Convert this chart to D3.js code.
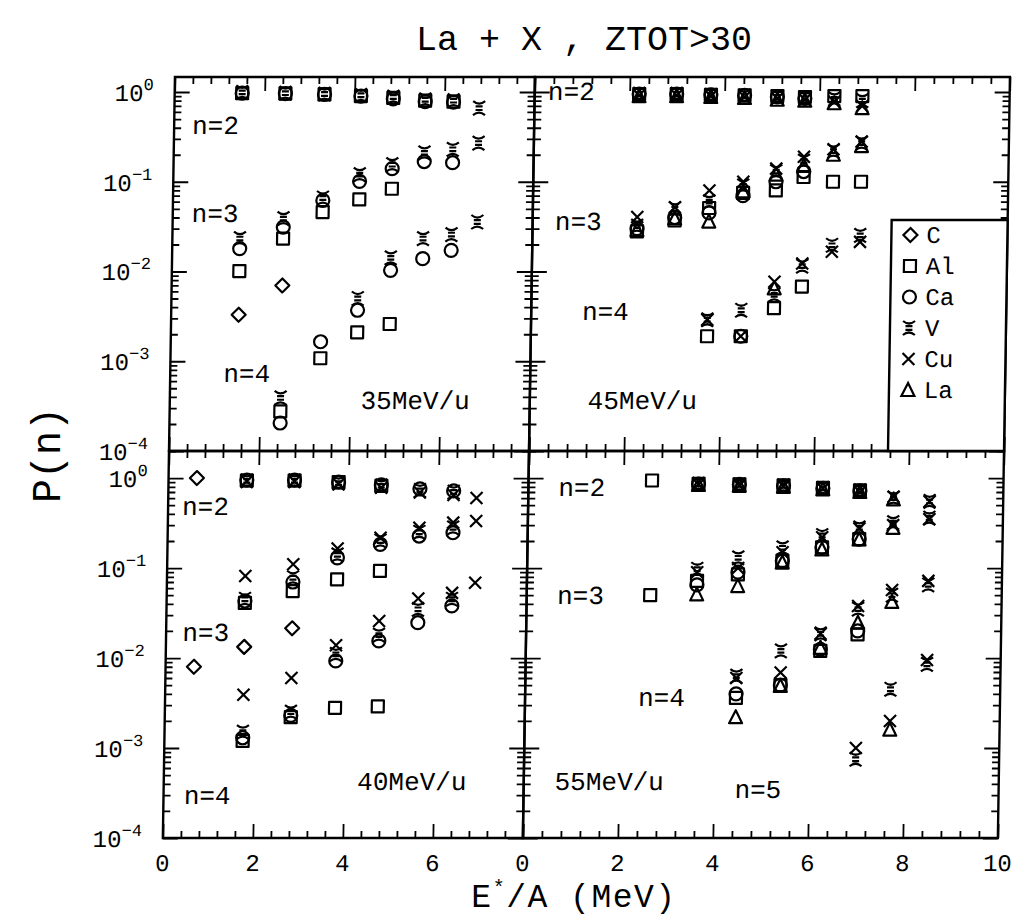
<!DOCTYPE html>
<html><head><meta charset="utf-8">
<script src="https://cdn.jsdelivr.net/npm/d3@7"></script>
<style>body{margin:0;background:#fff}</style>
</head><body>
<svg id="c" width="1013" height="922"></svg>
<script>
// ---------------- data ----------------
const SPECIES = ["C","Al","Ca","V","Cu","La"];
const X_TICKS_LEFT = [0,2,4,6];
const X_TICKS_RIGHT = [0,2,4,6,8,10];
const Y_TICK_EXP = [0,-1,-2,-3,-4];

// 35 MeV/u  (rows: C, Al, Ca, V, Cu, La)
const E35 = [1.50, 2.46, 3.33, 4.14, 4.86, 5.57, 6.20, 6.77];
const P35_n2 = [
  [null,null,null,null,null,null,null,null],
  [0.97,0.96,0.94,0.90,0.86,0.80,0.78,null],
  [0.97,0.96,0.94,0.90,0.84,0.78,0.77,null],
  [0.99,0.97,0.95,0.92,0.88,0.82,0.80,0.66],
  [null,null,null,null,null,null,null,null],
  [null,null,null,null,null,null,null,null]];
const P35_n3 = [
  [3.3e-3,7.0e-3,null,null,null,null,null,null],
  [0.0101,0.0233,0.046,0.0636,0.0836,null,null,null],
  [0.018,0.0313,0.062,0.101,0.14,0.168,0.163,null],
  [0.0233,0.0388,0.0659,0.12,0.155,0.21,0.23,0.27],
  [null,null,null,null,null,null,null,null],
  [null,null,null,null,null,null,null,null]];
const P35_n4 = [
  [null,null,null,null,null,null,null,null],
  [null,2.76e-4,1.08e-3,2.1e-3,2.6e-3,null,null,null],
  [null,2.05e-4,1.65e-3,3.7e-3,0.0103,0.0139,0.0172,null],
  [null,3.9e-4,null,5.0e-3,0.0142,0.0233,0.0258,0.0356],
  [null,null,null,null,null,null,null,null],
  [null,null,null,null,null,null,null,null]];

// 45 MeV/u
const E45 = [2.20, 2.99, 3.71, 4.42, 5.11, 5.69, 6.31, 6.90];
const P45_n2 = [
  [null,null,null,null,null,null,null,null],
  [0.95,0.95,0.93,0.92,0.90,0.88,0.90,0.90],
  [0.95,0.95,0.93,0.92,0.88,0.85,null,null],
  [0.95,0.95,0.92,0.90,0.88,0.85,0.84,0.80],
  [0.92,0.92,0.90,0.88,0.85,0.82,0.78,0.70],
  [0.90,0.90,0.88,0.86,0.82,0.80,0.75,0.66]];
const P45_n3 = [
  [null,null,null,null,null,null,null,null],
  [0.028,0.037,0.051,0.075,0.080,0.113,0.10,0.10],
  [0.030,0.040,0.045,0.070,0.10,0.13,null,null],
  [0.032,0.050,0.060,0.090,0.13,0.17,0.22,0.27],
  [0.0405,0.052,0.080,0.10,0.14,0.19,0.23,0.28],
  [0.029,0.039,0.036,0.078,0.12,0.15,0.20,0.25]];
const P45_n4 = [
  [null,null,null,null,null,null,null,null],
  [null,null,1.9e-3,1.9e-3,3.9e-3,6.8e-3,null,null],
  [null,null,null,1.9e-3,null,null,null,null],
  [null,null,2.9e-3,3.7e-3,5.5e-3,0.0115,0.0196,0.0253],
  [null,null,2.9e-3,1.9e-3,7.7e-3,0.0123,0.0166,0.0214],
  [null,null,null,null,6.5e-3,null,null,null]];

// 40 MeV/u
const E40 = [0.63, 1.74, 2.80, 3.78, 4.73, 5.59, 6.34, 6.85];
const P40_n2 = [
  [1.0,null,null,null,null,null,null,null],
  [null,0.94,0.94,0.90,0.82,null,null,null],
  [null,0.95,0.95,0.90,0.84,0.76,0.72,null],
  [null,0.93,0.93,0.88,0.82,0.73,0.70,null],
  [null,0.92,0.92,0.86,0.78,0.69,0.65,0.60],
  [null,null,null,null,null,null,null,null]];
const P40_n3 = [
  [8.0e-3,0.0133,0.0214,null,null,null,null,null],
  [null,0.041,0.0555,0.075,0.093,null,null,null],
  [null,0.043,0.070,0.13,0.183,0.227,0.247,null],
  [null,0.045,0.078,0.14,0.20,0.25,0.28,null],
  [null,0.0815,0.11,0.165,0.217,0.28,0.32,0.333],
  [null,null,null,null,null,null,null,null]];
const P40_n4 = [
  [null,null,null,null,null,null,null,null],
  [null,1.2e-3,2.2e-3,2.8e-3,2.9e-3,null,null,null],
  [null,1.3e-3,2.3e-3,9.3e-3,0.0155,0.0247,0.038,null],
  [null,1.5e-3,2.5e-3,0.011,0.018,0.0348,0.045,null],
  [null,3.9e-3,6.0e-3,0.0139,0.0258,0.046,0.053,0.0687],
  [null,null,null,null,null,null,null,null]];

// 55 MeV/u
const E55 = [2.60, 3.58, 4.44, 5.37, 6.20, 6.98, 7.69, 8.45];
const P55_n2 = [
  [null,null,null,null,null,null,null,null],
  [0.94,0.865,0.85,0.83,0.78,0.73,null,null],
  [null,0.86,0.85,0.82,0.77,0.72,null,null],
  [null,0.86,0.84,0.82,0.77,0.72,0.60,0.55],
  [null,0.85,0.83,0.81,0.76,0.70,0.62,0.55],
  [null,0.84,0.82,0.80,0.75,0.70,0.58,null]];
const P55_n3 = [
  [null,null,null,null,null,null,null,null],
  [0.05,0.072,0.085,0.12,0.17,0.21,null,null],
  [null,0.065,0.09,0.12,0.17,0.21,null,null],
  [null,0.097,0.13,0.168,0.23,0.28,0.32,0.36],
  [null,0.09,0.10,0.15,0.22,0.276,0.30,0.35],
  [null,0.051,0.063,0.115,0.161,0.208,0.28,null]];
const P55_n4 = [
  [null,null,null,null,null,null,null,null],
  [null,null,3.6e-3,5.0e-3,0.012,0.0183,null,null],
  [null,null,4.0e-3,5.0e-3,0.0125,0.020,null,null],
  [null,null,6.3e-3,0.012,0.0186,0.035,0.050,0.065],
  [null,null,6.0e-3,6.9e-3,0.0186,0.0378,0.057,0.072],
  [null,null,2.2e-3,4.9e-3,0.013,0.0247,0.042,null]];
const P55_n5 = [
  [null,null,null,null,null,null,null,null],
  [null,null,null,null,null,null,null,null],
  [null,null,null,null,null,null,null,null],
  [null,null,null,null,null,7.5e-4,4.5e-3,8.5e-3],
  [null,null,null,null,null,1.0e-3,2.0e-3,9.5e-3],
  [null,null,null,null,null,null,1.6e-3,null]];

// annotations (text, E, P)
const ANN35 = [["n=2",0.40,0.34],["n=3",0.42,0.0356],["n=4",1.18,5.9e-4],["35MeV/u",4.24,2.94e-4]];
const ANN45 = [["n=2",0.28,0.81],["n=3",0.47,0.029],["n=4",1.07,2.88e-3],["45MeV/u",1.22,2.94e-4]];
const ANN40 = [["n=2",0.31,0.39],["n=3",0.36,0.0156],["n=4",0.45,2.4e-4],["40MeV/u",4.30,3.4e-4]];
const ANN55 = [["n=2",0.63,0.636],["n=3",0.64,0.0401],["n=4",2.38,2.95e-3],["n=5",4.44,2.8e-4],["55MeV/u",0.65,3.4e-4]];

// axis limits
const Y_MIN = 1e-4, Y_MAX_TOP = 1.47, Y_MAX_BOTTOM = 2;

// ---------------- layout ----------------
const L = 169, M = 529, R = 1004, T = 77, H = 451, B = 838;
const FONT = "'Liberation Mono', 'DejaVu Sans Mono', monospace";

const panels = [
  {E:E35, sets:[P35_n2,P35_n3,P35_n4], ann:ANN35, x0:L, x1:M, xmax:8, y0:H, y1:T, ymax:Y_MAX_TOP},
  {E:E45, sets:[P45_n2,P45_n3,P45_n4], ann:ANN45, x0:M, x1:R, xmax:10, y0:H, y1:T, ymax:Y_MAX_TOP},
  {E:E40, sets:[P40_n2,P40_n3,P40_n4], ann:ANN40, x0:L, x1:M, xmax:8, y0:B, y1:H, ymax:Y_MAX_BOTTOM, xl:X_TICKS_LEFT},
  {E:E55, sets:[P55_n2,P55_n3,P55_n4,P55_n5], ann:ANN55, x0:M, x1:R, xmax:10, y0:B, y1:H, ymax:Y_MAX_BOTTOM, xl:X_TICKS_RIGHT}
];

const svg = d3.select("#c");
svg.append("rect").attr("width",1013).attr("height",922).attr("fill","#fff");
const g = svg.append("g").attr("transform", `translate(0,${H}) skewX(-0.91) translate(0,${-H})`);

const SW = 2.2;
const symbols = {
  C:  "M0,-7L7,0L0,7L-7,0Z",
  Al: "M-6,-6H6V6H-6Z",
  Ca: "M6.5,0A6.5,6.5 0 1,1 -6.5,0A6.5,6.5 0 1,1 6.5,0Z",
  V:  "M-6,-7Q0,-2 6,-7M-6,7Q0,2 6,7M-3.5,-1.8H3.5M-3.5,1.8H3.5",
  Cu: "M-6,-6L6,6M6,-6L-6,6",
  La: "M0,-7L6.5,6H-6.5Z"
};

function majMin(xmax){
  const maj = d3.range(0, xmax+0.001, 2);
  const min = d3.range(0, xmax+0.001, 0.4).filter(v => Math.abs(v/2 - Math.round(v/2)) > 1e-6);
  return [maj, min];
}
const yMaj = Y_TICK_EXP.map(e => Math.pow(10,e));

panels.forEach(p => {
  const x = d3.scaleLinear().domain([0,p.xmax]).range([p.x0,p.x1]);
  const y = d3.scaleLog().domain([Y_MIN,p.ymax]).range([p.y0,p.y1]);
  const yMin = [];
  for (let e=-4; e<=0; e++) for (let k=2; k<=9; k++){ const v=k*Math.pow(10,e); if (v<=p.ymax) yMin.push(v); }
  const [xMaj,xMin] = majMin(p.xmax);
  const ax = (axis, tx, ty) => {
    const a = g.append("g").attr("transform",`translate(${tx},${ty})`).call(axis);
    a.select(".domain").remove();
    a.selectAll("line").attr("stroke","#000").attr("stroke-width",1.8);
    a.selectAll("text").remove();
  };
  ax(d3.axisTop(x).tickValues(xMaj).tickSize(14), 0, p.y0);
  ax(d3.axisTop(x).tickValues(xMin).tickSize(7), 0, p.y0);
  ax(d3.axisBottom(x).tickValues(xMaj).tickSize(14), 0, p.y1);
  ax(d3.axisBottom(x).tickValues(xMin).tickSize(7), 0, p.y1);
  ax(d3.axisRight(y).tickValues(yMaj).tickSize(15), p.x0, 0);
  ax(d3.axisRight(y).tickValues(yMin).tickSize(7), p.x0, 0);
  ax(d3.axisLeft(y).tickValues(yMaj).tickSize(15), p.x1, 0);
  ax(d3.axisLeft(y).tickValues(yMin).tickSize(7), p.x1, 0);
  g.append("rect").attr("x",p.x0).attr("y",p.y1).attr("width",p.x1-p.x0).attr("height",p.y0-p.y1)
    .attr("fill","none").attr("stroke","#000").attr("stroke-width",2.4);

  p.sets.forEach(set => {
    set.forEach((row, si) => {
      row.forEach((v, i) => {
        if (v == null) return;
        g.append("path").attr("d", symbols[SPECIES[si]])
          .attr("transform",`translate(${x(p.E[i])},${y(v)})`)
          .attr("fill","none").attr("stroke","#000").attr("stroke-width",SW)
          .attr("stroke-linejoin","round");
      });
    });
  });

  p.ann.forEach(a => {
    g.append("text").attr("x",x(a[1])).attr("y",y(a[2])).text(a[0])
      .attr("font-family",FONT).attr("font-size",26).attr("fill","#000");
  });

  if (p.x0 === L) {
    Y_TICK_EXP.forEach(e => {
      const t = g.append("text").attr("x",L-21).attr("y",y(Math.pow(10,e))+9)
        .attr("text-anchor","end").attr("font-family",FONT).attr("font-size",24).attr("fill","#000");
      t.append("tspan").text("10");
      t.append("tspan").attr("dy",-11).attr("font-size",17).text(e===0?"0":"\u2212"+(-e));
    });
  }
  if (p.xl) {
    p.xl.forEach(v => {
      g.append("text").attr("x",x(v)).attr("y",B+33).attr("text-anchor","middle")
        .attr("font-family",FONT).attr("font-size",24).attr("fill","#000").text(v);
    });
  }
});

const LX0 = 888, LY0 = 220;
g.append("rect").attr("x",LX0).attr("y",LY0).attr("width",R-LX0).attr("height",H-LY0)
  .attr("fill","#fff").attr("stroke","#000").attr("stroke-width",2.4);
SPECIES.forEach((s,i) => {
  const yy = LY0 + 15 + i*31;
  g.append("path").attr("d",symbols[s]).attr("transform",`translate(${LX0+19},${yy})`)
    .attr("fill","none").attr("stroke","#000").attr("stroke-width",SW);
  g.append("text").attr("x",LX0+35).attr("y",yy+8).text(s)
    .attr("font-family",FONT).attr("font-size",24).attr("fill","#000");
});

svg.append("text").attr("x",584).attr("y",50).attr("text-anchor","middle")
  .attr("font-family",FONT).attr("font-size",35).attr("fill","#000").text("La + X , ZTOT>30");
const xl = svg.append("text").attr("x",574).attr("y",907).attr("text-anchor","middle")
  .attr("font-family",FONT).attr("font-size",33).attr("letter-spacing",1.5).attr("fill","#000");
xl.append("tspan").text("E");
xl.append("tspan").attr("dy",-13).attr("font-size",20).text("*");
xl.append("tspan").attr("dy",13).text("/A (MeV)");
svg.append("text").attr("transform","translate(60,455) rotate(-90)").attr("text-anchor","middle")
  .attr("font-family",FONT).attr("font-size",40).attr("fill","#000").text("P(n)");
</script>
</body></html>
